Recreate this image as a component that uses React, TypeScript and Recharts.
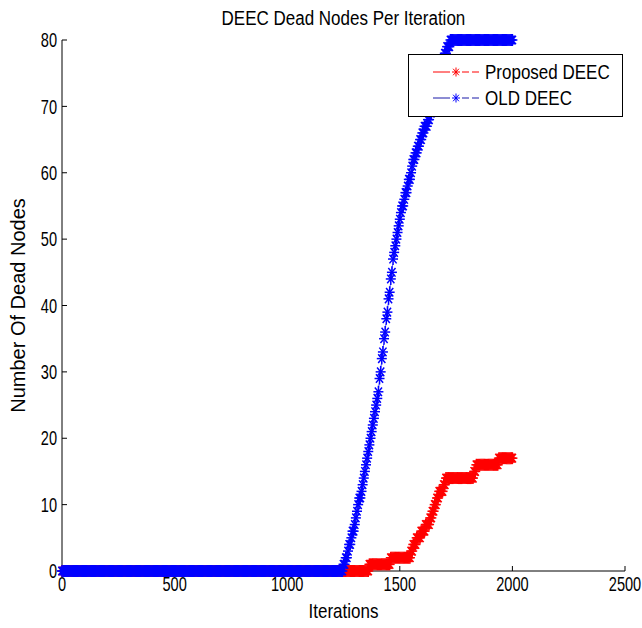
import React from 'react';
import { LineChart, Line, XAxis, YAxis, Legend } from 'recharts';

const FONT = '"Liberation Sans", Arial, Helvetica, sans-serif';

const chartTitle = 'DEEC Dead Nodes Per Iteration';
const xLabel = 'Iterations';
const yLabel = 'Number Of Dead Nodes';
const seriesNames = ['Proposed DEEC', 'OLD DEEC'];
const xTicks = [0, 500, 1000, 1500, 2000, 2500];
const yTicks = [0, 10, 20, 30, 40, 50, 60, 70, 80];
const sampleStep = 5; // iterations between samples

// Proposed DEEC dead nodes, iterations 0..2000 every 5
const proposedDead = [
  0, 0, 0, 0, 0, 0, 0, 0, 0, 0, 0, 0, 0, 0, 0, 0, 0, 0, 0, 0, 0, 0, 0, 0, 0,
  0, 0, 0, 0, 0, 0, 0, 0, 0, 0, 0, 0, 0, 0, 0, 0, 0, 0, 0, 0, 0, 0, 0, 0, 0,
  0, 0, 0, 0, 0, 0, 0, 0, 0, 0, 0, 0, 0, 0, 0, 0, 0, 0, 0, 0, 0, 0, 0, 0, 0,
  0, 0, 0, 0, 0, 0, 0, 0, 0, 0, 0, 0, 0, 0, 0, 0, 0, 0, 0, 0, 0, 0, 0, 0, 0,
  0, 0, 0, 0, 0, 0, 0, 0, 0, 0, 0, 0, 0, 0, 0, 0, 0, 0, 0, 0, 0, 0, 0, 0, 0,
  0, 0, 0, 0, 0, 0, 0, 0, 0, 0, 0, 0, 0, 0, 0, 0, 0, 0, 0, 0, 0, 0, 0, 0, 0,
  0, 0, 0, 0, 0, 0, 0, 0, 0, 0, 0, 0, 0, 0, 0, 0, 0, 0, 0, 0, 0, 0, 0, 0, 0,
  0, 0, 0, 0, 0, 0, 0, 0, 0, 0, 0, 0, 0, 0, 0, 0, 0, 0, 0, 0, 0, 0, 0, 0, 0,
  0, 0, 0, 0, 0, 0, 0, 0, 0, 0, 0, 0, 0, 0, 0, 0, 0, 0, 0, 0, 0, 0, 0, 0, 0,
  0, 0, 0, 0, 0, 0, 0, 0, 0, 0, 0, 0, 0, 0, 0, 0, 0, 0, 0, 0, 0, 0, 0, 0, 0,
  0, 0, 0, 0, 0, 0, 0, 0, 0, 0, 0, 0, 0, 0, 0, 0, 0, 0, 0, 0, 0, 0, 0,
  1, 1, 1, 1, 1, 1, 1, 1, 1, 1, 1, 1, 1, 1, 1, 1, 1, 1, 1,
  2, 2, 2, 2, 2, 2, 2, 2, 2, 2, 2, 2, 2, 2, 2, 2, 2, 2,
  3, 3, 4, 4, 4, 5, 5, 5, 5, 6, 6, 6, 6, 7, 7, 7, 7, 8, 8, 9,
  9, 10, 10, 11, 11, 12, 12, 12, 12, 13, 13,
  14, 14, 14, 14, 14, 14, 14, 14, 14, 14, 14, 14, 14, 14, 14, 14, 14, 14, 14, 14,
  14, 14, 14, 14, 14,
  15, 15,
  16, 16, 16, 16, 16, 16, 16, 16, 16, 16, 16, 16, 16, 16, 16, 16, 16, 16, 16, 16,
  17, 17, 17, 17, 17, 17, 17, 17, 17, 17, 17, 17, 17,
];

// OLD DEEC dead nodes, iterations 0..2000 every 5
const oldDead = [
  0, 0, 0, 0, 0, 0, 0, 0, 0, 0, 0, 0, 0, 0, 0, 0, 0, 0, 0, 0, 0, 0, 0, 0, 0,
  0, 0, 0, 0, 0, 0, 0, 0, 0, 0, 0, 0, 0, 0, 0, 0, 0, 0, 0, 0, 0, 0, 0, 0, 0,
  0, 0, 0, 0, 0, 0, 0, 0, 0, 0, 0, 0, 0, 0, 0, 0, 0, 0, 0, 0, 0, 0, 0, 0, 0,
  0, 0, 0, 0, 0, 0, 0, 0, 0, 0, 0, 0, 0, 0, 0, 0, 0, 0, 0, 0, 0, 0, 0, 0, 0,
  0, 0, 0, 0, 0, 0, 0, 0, 0, 0, 0, 0, 0, 0, 0, 0, 0, 0, 0, 0, 0, 0, 0, 0, 0,
  0, 0, 0, 0, 0, 0, 0, 0, 0, 0, 0, 0, 0, 0, 0, 0, 0, 0, 0, 0, 0, 0, 0, 0, 0,
  0, 0, 0, 0, 0, 0, 0, 0, 0, 0, 0, 0, 0, 0, 0, 0, 0, 0, 0, 0, 0, 0, 0, 0, 0,
  0, 0, 0, 0, 0, 0, 0, 0, 0, 0, 0, 0, 0, 0, 0, 0, 0, 0, 0, 0, 0, 0, 0, 0, 0,
  0, 0, 0, 0, 0, 0, 0, 0, 0, 0, 0, 0, 0, 0, 0, 0, 0, 0, 0, 0, 0, 0, 0, 0, 0,
  0, 0, 0, 0, 0, 0, 0, 0, 0, 0, 0, 0, 0, 0, 0, 0, 0, 0, 0, 0, 0, 0, 0, 0, 0,
  1, 1, 2, 2, 3, 4, 4, 5, 6, 6,
  7, 8, 9, 10, 11, 11, 12, 13, 14, 15,
  16, 17, 18, 19, 20, 21, 22, 23, 24, 25,
  26, 27, 29, 30, 32, 33, 35, 36, 38, 39,
  41, 42, 44, 45, 47, 48, 49, 50, 51, 52,
  53, 54, 55, 55, 56, 57, 57, 58, 59, 59,
  60, 61, 62, 62, 63, 63, 64, 64, 65, 65,
  66, 66, 67, 67, 67, 68, 68, 69, 69, 70,
  71, 71, 72, 73, 74, 74, 75, 76, 77, 77,
  78, 78, 79, 79, 79,
  80, 80, 80, 80, 80,
  80, 80, 80, 80, 80, 80, 80, 80, 80, 80,
  80, 80, 80, 80, 80, 80, 80, 80, 80, 80,
  80, 80, 80, 80, 80, 80, 80, 80, 80, 80,
  80, 80, 80, 80, 80, 80, 80, 80, 80, 80,
  80, 80, 80, 80, 80, 80, 80, 80, 80, 80,
  80,
];

const RED = '#ff0000';
const BLUE = '#0000ff';

const proposedData = proposedDead.map((v, i) => ({ it: i * sampleStep, dead: v }));
const oldData = oldDead.map((v, i) => ({ it: i * sampleStep, dead: v }));

const Star = ({
  cx, cy, color, rx = 5, ry = 6, w = 1.5,
}: { cx: number; cy: number; color: string; rx?: number; ry?: number; w?: number }) => {
  const dx = rx * 0.72;
  const dy = ry * 0.72;
  return (
    <g stroke={color} strokeWidth={w}>
      <line x1={cx - rx} y1={cy} x2={cx + rx} y2={cy} />
      <line x1={cx} y1={cy - ry} x2={cx} y2={cy + ry} />
      <line x1={cx - dx} y1={cy - dy} x2={cx + dx} y2={cy + dy} />
      <line x1={cx - dx} y1={cy + dy} x2={cx + dx} y2={cy - dy} />
    </g>
  );
};

const makeDot = (color: string) => (props: any) => {
  const { cx, cy, index } = props;
  if (cx == null || cy == null) return <g key={`e-${color}-${index}`} />;
  return <Star key={`s-${color}-${index}`} cx={cx} cy={cy} color={color} />;
};

const SX = 0.85; // horizontal condensing of text glyphs

const LegendBox = () => {
  const rows = [
    { name: seriesNames[0], color: RED, marker: RED },
    { name: seriesNames[1], color: '#1a1aa8', marker: BLUE },
  ];
  return (
    <div
      style={{
        width: 215,
        height: 63,
        boxSizing: 'border-box',
        border: '1px solid #000',
        background: '#fff',
        fontFamily: FONT,
        fontSize: 20,
        color: '#000',
        position: 'relative',
      }}
    >
      {rows.map((r, i) => (
        <div
          key={r.name}
          style={{ position: 'absolute', left: 0, top: 4 + i * 26, height: 26, display: 'flex', alignItems: 'center' }}
        >
          <svg width={76} height={26} style={{ display: 'block' }}>
            <line x1={24} y1={13} x2={41} y2={13} stroke={r.color} strokeWidth={1} />
            <line x1={53} y1={13} x2={70} y2={13} stroke={r.color} strokeWidth={1} strokeDasharray="7 3" />
            <Star cx={47} cy={13} color={r.marker} rx={4} ry={4.5} w={1} />
          </svg>
          <span style={{ whiteSpace: 'nowrap', display: 'inline-block', transform: `scaleX(${SX})`, transformOrigin: 'left center', lineHeight: '26px' }}>
            {r.name}
          </span>
        </div>
      ))}
    </div>
  );
};

const XTick = (props: any) => {
  const { x, y, payload } = props;
  return (
    <text
      transform={`translate(${x},${y}) scale(0.73,1)`}
      x={0}
      y={0}
      dy="0.71em"
      textAnchor="middle"
      fill="#000"
      fontSize={20}
      fontFamily={FONT}
    >
      {payload.value}
    </text>
  );
};

const YTick = (props: any) => {
  const { x, y, payload } = props;
  return (
    <text
      transform={`translate(${x},${y}) scale(0.73,1)`}
      x={0}
      y={0}
      dy="0.36em"
      textAnchor="end"
      fill="#000"
      fontSize={20}
      fontFamily={FONT}
    >
      {payload.value}
    </text>
  );
};

const XLabel = (props: any) => {
  const vb = props.viewBox || {};
  const cx = vb.x + vb.width / 2;
  const by = vb.y + vb.height - 10;
  return (
    <text
      transform={`translate(${cx},${by}) scale(${SX},1)`}
      x={0}
      y={0}
      textAnchor="middle"
      fill="#000"
      fontSize={20}
      fontFamily={FONT}
    >
      {xLabel}
    </text>
  );
};

const YLabel = (props: any) => {
  const vb = props.viewBox || {};
  const cy = vb.y + vb.height / 2;
  return (
    <text
      transform={`translate(18,${cy}) rotate(-90)`}
      x={0}
      y={0}
      dy="0.36em"
      textAnchor="middle"
      fill="#000"
      fontSize={20}
      fontFamily={FONT}
    >
      {yLabel}
    </text>
  );
};

export default function App() {
  return (
    <div style={{ position: 'absolute', left: 0, top: 0, width: 642, height: 628, background: '#fff' }}>
      <div
        style={{
          position: 'absolute',
          left: 62,
          top: 6,
          width: 563,
          textAlign: 'center',
          fontFamily: FONT,
          fontSize: 20,
          color: '#000',
          lineHeight: '24px',
        }}
      >
        <span style={{ display: 'inline-block', transform: `scaleX(${SX})`, whiteSpace: 'nowrap' }}>{chartTitle}</span>
      </div>
      <LineChart width={642} height={628} margin={{ top: 40, right: 17, left: 0, bottom: 0 }}>
        <XAxis
          xAxisId="b"
          dataKey="it"
          type="number"
          domain={[0, 2500]}
          ticks={xTicks}
          interval={0}
          height={57}
          tickSize={-5}
          tickMargin={11}
          axisLine={{ stroke: '#000' }}
          tickLine={{ stroke: '#000' }}
          tick={<XTick />}
          label={<XLabel />}
        />
        <XAxis
          xAxisId="t"
          orientation="top"
          dataKey="it"
          type="number"
          domain={[0, 2500]}
          ticks={xTicks}
          interval={0}
          height={0}
          tickSize={-5}
          axisLine={{ stroke: '#000' }}
          tickLine={{ stroke: '#000' }}
          tick={false}
        />
        <YAxis
          yAxisId="l"
          type="number"
          domain={[0, 80]}
          ticks={yTicks}
          interval={0}
          width={62}
          tickSize={-5}
          tickMargin={10}
          axisLine={{ stroke: '#000' }}
          tickLine={{ stroke: '#000' }}
          tick={<YTick />}
          label={<YLabel />}
        />
        <YAxis
          yAxisId="r"
          orientation="right"
          type="number"
          domain={[0, 80]}
          ticks={yTicks}
          interval={0}
          width={0}
          tickSize={-5}
          axisLine={{ stroke: '#000' }}
          tickLine={{ stroke: '#000' }}
          tick={false}
        />
        <Legend
          layout="horizontal"
          verticalAlign="middle"
          align="center"
          wrapperStyle={{ left: 408, top: 54, width: 215, height: 63 }}
          content={() => <LegendBox />}
        />
        <Line
          xAxisId="b"
          yAxisId="l"
          data={proposedData}
          dataKey="dead"
          name={seriesNames[0]}
          stroke={RED}
          strokeWidth={0.6}
          strokeDasharray="6 4"
          dot={makeDot(RED)}
          activeDot={false}
          isAnimationActive={false}
        />
        <Line
          xAxisId="b"
          yAxisId="l"
          data={oldData}
          dataKey="dead"
          name={seriesNames[1]}
          stroke={BLUE}
          strokeWidth={0.6}
          strokeDasharray="6 4"
          dot={makeDot(BLUE)}
          activeDot={false}
          isAnimationActive={false}
        />
      </LineChart>
    </div>
  );
}
